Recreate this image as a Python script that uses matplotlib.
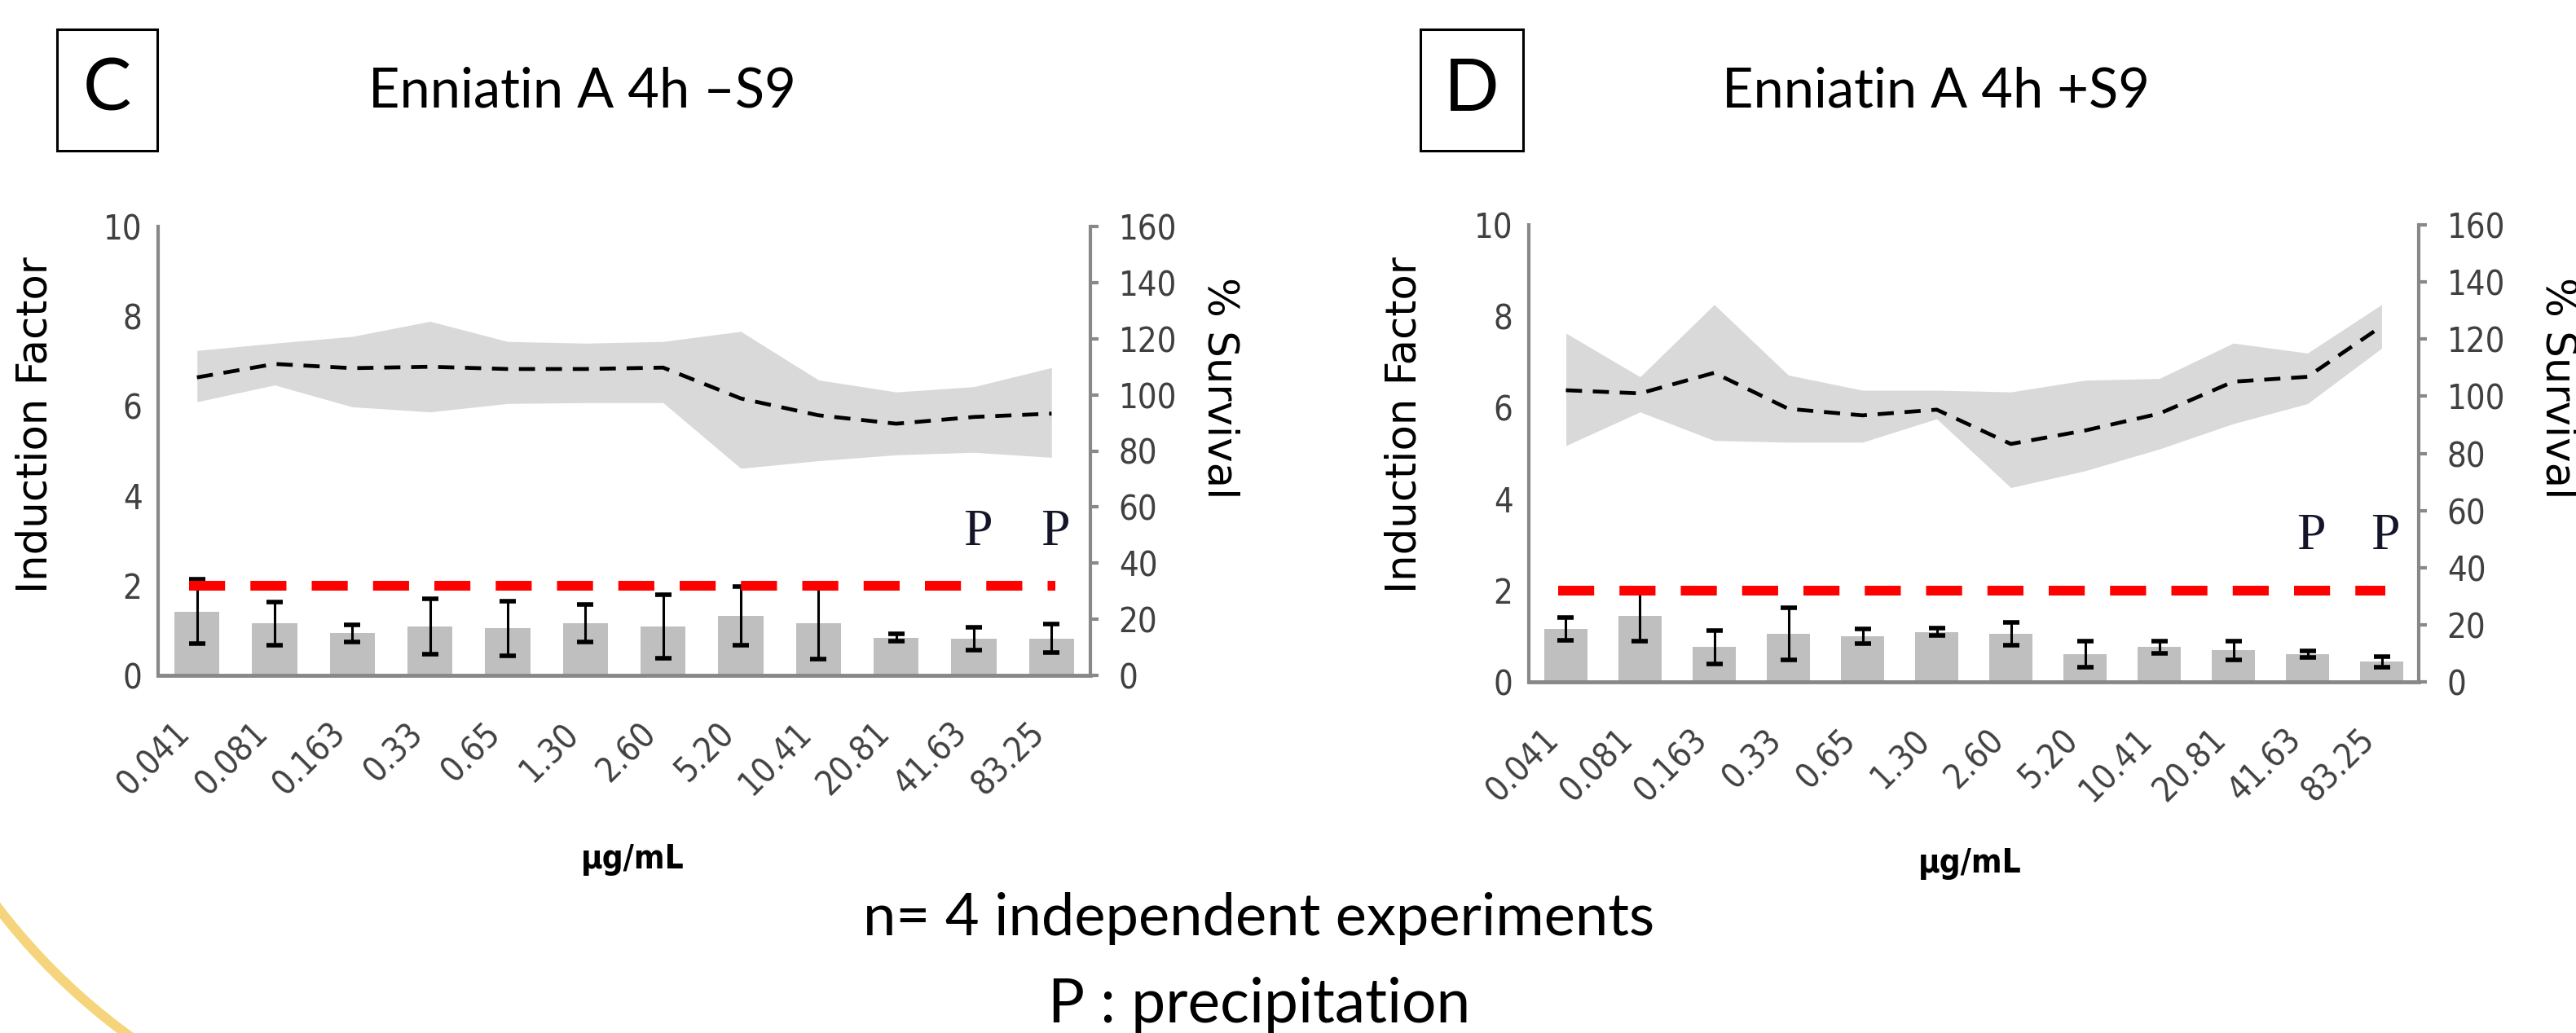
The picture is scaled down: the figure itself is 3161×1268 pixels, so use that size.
import matplotlib
matplotlib.use("Agg")
import matplotlib.pyplot as plt
from matplotlib import font_manager
from matplotlib.patches import Rectangle, Arc
from matplotlib.transforms import ScaledTranslation
import numpy as np

W, H = 3161, 1268

doses = ['0.041', '0.081', '0.163', '0.33', '0.65', '1.30', '2.60',
         '5.20', '10.41', '20.81', '41.63', '83.25']
threshold = 2
precip = ['41.63', '83.25']

# panel C : -S9
c_if = [1.42, 1.16, 0.94, 1.09, 1.05, 1.16, 1.09, 1.32, 1.16, 0.84, 0.82, 0.82]
c_if_err = [0.72, 0.48, 0.19, 0.61, 0.61, 0.42, 0.70, 0.65, 0.80, 0.08, 0.25, 0.32]
c_surv = [106.2, 111.0, 109.5, 110.0, 109.2, 109.2, 109.7, 98.7, 92.7, 89.7, 92.1, 93.3]
c_surv_hi = [115.8, 118.4, 120.8, 126.2, 119.0, 118.4, 119.0, 122.6, 105.3, 101.0, 102.9, 109.7]
c_surv_lo = [97.5, 103.5, 95.7, 93.9, 96.9, 97.2, 97.2, 73.8, 76.5, 78.6, 79.5, 77.7]

# panel D : +S9
d_if = [1.16, 1.45, 0.76, 1.05, 1.00, 1.09, 1.06, 0.61, 0.76, 0.69, 0.61, 0.44]
d_if_err = [0.25, 0.55, 0.37, 0.57, 0.16, 0.08, 0.25, 0.29, 0.13, 0.20, 0.07, 0.12]
d_surv = [102.1, 101.0, 108.2, 95.6, 93.3, 95.3, 83.3, 88.0, 93.9, 105.1, 106.8, 124.5]
d_surv_hi = [122.1, 106.8, 132.1, 107.4, 102.1, 102.1, 101.5, 105.6, 106.2, 118.6, 115.1, 132.1]
d_surv_lo = [82.7, 94.5, 84.5, 83.9, 83.9, 92.1, 68.0, 73.9, 81.5, 90.4, 97.4, 116.8]

names = {f.name for f in font_manager.fontManager.ttflist}
narrow = 'Liberation Sans Narrow' if 'Liberation Sans Narrow' in names else 'DejaVu Sans'
tick_size = 33 if narrow != 'DejaVu Sans' else 30
calib = 'Lato'

fig = plt.figure(figsize=(W / 100, H / 100), dpi=100)


def fx(px):
    return px / W


def fy(py):
    return 1 - py / H


def panel(rect, iff, iff_err, surv, hi, lo, letter, box, title, title_xy,
          ylab_x, slab_x, unit_xy):
    left, top, right, bottom = rect
    ax = fig.add_axes([fx(left), fy(bottom), fx(right - left), (bottom - top) / H])
    x = np.arange(len(doses))
    ax.bar(x, iff, width=0.58, color='#bfbfbf', zorder=2)
    ax.errorbar(x, iff, yerr=iff_err, fmt='none', ecolor='black',
                elinewidth=2.2, capsize=7, capthick=4, zorder=3)
    ax.plot([x[0] - 0.1, x[-1] + 0.05], [threshold, threshold], color='#ff0000',
            lw=8.6, dashes=(3.7, 2.6), solid_capstyle='butt',
            dash_capstyle='butt', zorder=4)
    for d in precip:
        ax.text(doses.index(d) + 0.05, 2.65, 'P', family='Liberation Serif',
                fontsize=46, color='#15152a', ha='center', va='bottom', zorder=5)
    ax.set_xlim(-0.5, len(doses) - 0.5)
    ax.set_ylim(0, 10)
    ax.set_yticks(range(0, 11, 2))
    ax.set_xticks(x)
    ax.set_xticklabels(doses, rotation=45, ha='right', va='top',
                       family=narrow, fontstretch='condensed',
                       fontsize=tick_size, color='#404040')
    for lab in ax.get_xticklabels():
        lab.set_transform(lab.get_transform() +
                          ScaledTranslation(0.10, 0, fig.dpi_scale_trans))
    ax.tick_params(axis='x', length=0, pad=36)
    ax.tick_params(axis='y', length=0, pad=14, labelsize=tick_size,
                   labelcolor='#404040')
    for lab in ax.get_yticklabels():
        lab.set_family(narrow)
        lab.set_stretch('condensed')
    for s in ['top', 'right']:
        ax.spines[s].set_visible(False)
    ax.spines['left'].set_color('#888888')
    ax.spines['left'].set_linewidth(3)
    ax.spines['bottom'].set_color('#888888')
    ax.spines['bottom'].set_linewidth(3.5)
    ax.spines['bottom'].set_zorder(6)

    ax2 = ax.twinx()
    ax2.fill_between(x, lo, hi, color='#d9d9d9', lw=0, zorder=1)
    ax2.plot(x, surv, color='black', lw=3.4, dashes=(4.2, 2.8), zorder=2)
    ax2.set_ylim(0, 160)
    ax2.set_yticks(range(0, 161, 20))
    ax2.tick_params(axis='y', length=7, width=3, color='#888888', pad=18,
                    labelsize=tick_size, labelcolor='#404040')
    for lab in ax2.get_yticklabels():
        lab.set_family(narrow)
        lab.set_stretch('condensed')
    for s in ['top', 'left', 'bottom']:
        ax2.spines[s].set_visible(False)
    ax2.spines['right'].set_color('#888888')
    ax2.spines['right'].set_linewidth(3)
    ax.set_zorder(ax2.get_zorder() + 1)
    ax.patch.set_visible(False)

    bx0, by0, bx1, by1 = box
    fig.patches.append(Rectangle((fx(bx0), fy(by1)), fx(bx1 - bx0), (by1 - by0) / H,
                                 transform=fig.transFigure, fill=False,
                                 edgecolor='black', lw=2.2))
    fig.text(fx((bx0 + bx1) / 2), fy((by0 + by1) / 2), letter, family=calib,
             fontsize=64, ha='center', va='center')
    fig.text(fx(title_xy[0]), fy(title_xy[1]), title, family=calib,
             fontsize=48, ha='left', va='center')
    fig.text(fx(ylab_x), fy(522), 'Induction Factor', family='DejaVu Sans',
             fontsize=37, rotation=90, ha='center', va='center')
    fig.text(fx(slab_x), fy(476), '% Survival', family='DejaVu Sans',
             fontsize=37, rotation=270, ha='center', va='center')
    fig.text(fx(unit_xy[0]), fy(unit_xy[1]), 'µg/mL', family=narrow,
             fontstretch='condensed', fontweight='bold', fontsize=29,
             ha='center', va='center')


panel((194, 278, 1338, 829), c_if, c_if_err, c_surv, c_surv_hi, c_surv_lo,
      'C', (70, 36, 193, 185), 'Enniatin A 4h \u2013S9', (452, 113),
      44, 1497, (776, 1055))
panel((1876, 276, 2968, 837), d_if, d_if_err, d_surv, d_surv_hi, d_surv_lo,
      'D', (1743, 36, 1869, 185), 'Enniatin A 4h +S9', (2113, 113),
      1724, 3138, (2417, 1060))

fig.text(fx(1545), fy(1128), 'n= 4 independent experiments', family=calib,
         fontsize=52, ha='center', va='center')
fig.text(fx(1545), fy(1234), 'P : precipitation', family=calib,
         fontsize=54, ha='center', va='center')

# decorative arc in the lower left corner
fig.patches.append(Arc((6.18, 6.28), 15.62, 15.62, theta1=200, theta2=250,
                       transform=fig.dpi_scale_trans, color='#f5d47c', lw=8.6))

fig.savefig('out.png', dpi=100)
